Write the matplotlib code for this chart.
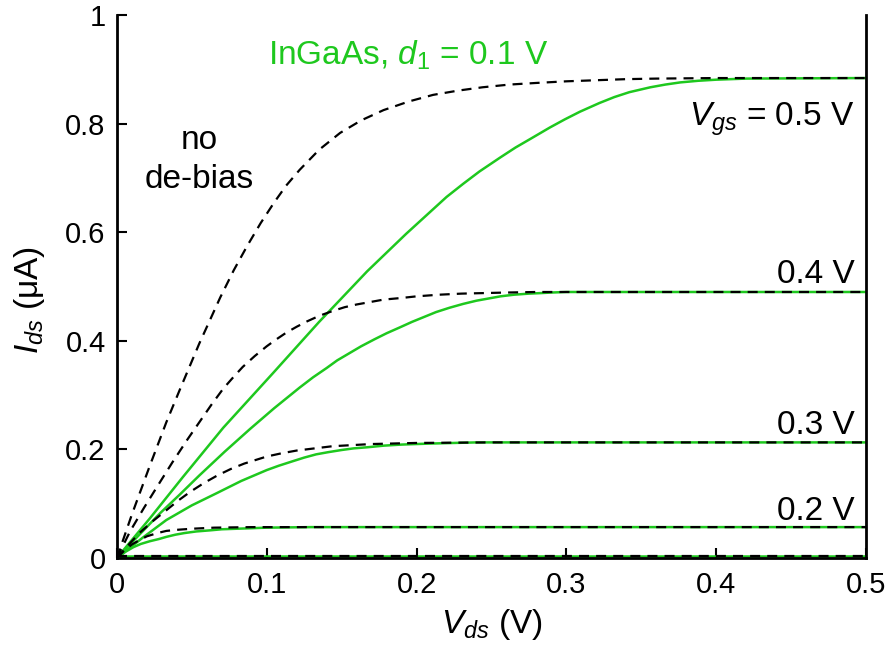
import numpy as np
import matplotlib
matplotlib.use('Agg')
import matplotlib.pyplot as plt

plt.rcParams['font.family'] = ['Liberation Sans', 'DejaVu Sans']
plt.rcParams['mathtext.fontset'] = 'custom'
plt.rcParams['mathtext.rm'] = 'Liberation Sans'
plt.rcParams['mathtext.it'] = 'Liberation Sans:italic'

GREEN = '#1ec81e'

# no de-bias curves (black dashed), Vgs = 0.1 ... 0.5 V
nb_x_01 = [0, 0.5]
nb_y_01 = [0.003, 0.003]
nb_x_02 = [0, 0.005, 0.01, 0.015, 0.02, 0.027, 0.033, 0.04, 0.05, 0.065, 0.09, 0.5]
nb_y_02 = [0, 0.014, 0.025, 0.033, 0.04, 0.046, 0.05, 0.052, 0.054, 0.056, 0.057, 0.057]
nb_x_03 = [0, 0.008, 0.015, 0.024, 0.033, 0.041, 0.049, 0.058, 0.067, 0.076, 0.085, 0.1,
           0.11, 0.12, 0.132, 0.144, 0.157, 0.17, 0.185, 0.2, 0.25, 0.5]
nb_y_03 = [0, 0.025, 0.046, 0.068, 0.088, 0.106, 0.122, 0.138, 0.152, 0.164, 0.174, 0.187,
           0.193, 0.198, 0.202, 0.206, 0.208, 0.21, 0.211, 0.212, 0.213, 0.213]
nb_x_04 = [0, 0.009, 0.018, 0.027, 0.037, 0.047, 0.055, 0.063, 0.071, 0.078, 0.084, 0.092,
           0.1, 0.106, 0.113, 0.12, 0.127, 0.135, 0.144, 0.152, 0.16, 0.17, 0.178, 0.19,
           0.2, 0.215, 0.23, 0.245, 0.26, 0.28, 0.3, 0.5]
nb_y_04 = [0, 0.05, 0.092, 0.132, 0.176, 0.218, 0.25, 0.282, 0.312, 0.334, 0.352, 0.372,
           0.39, 0.402, 0.415, 0.426, 0.436, 0.446, 0.455, 0.462, 0.467, 0.472, 0.476, 0.479,
           0.482, 0.485, 0.487, 0.488, 0.489, 0.49, 0.49, 0.49]
nb_x_05 = [0, 0.01, 0.022, 0.033, 0.042, 0.055, 0.069, 0.078, 0.087, 0.096, 0.105, 0.113,
           0.122, 0.135, 0.149, 0.163, 0.178, 0.195, 0.211, 0.228, 0.244, 0.262, 0.28, 0.3,
           0.32, 0.34, 0.36, 0.4, 0.5]
nb_y_05 = [0, 0.08, 0.17, 0.25, 0.31, 0.395, 0.48, 0.53, 0.575, 0.617, 0.655, 0.686,
           0.715, 0.752, 0.783, 0.806, 0.825, 0.841, 0.853, 0.861, 0.867, 0.872, 0.875, 0.878,
           0.88, 0.882, 0.883, 0.884, 0.884]

# InGaAs, d1 = 0.1 V (green solid)
ig_x_01 = [0, 0.5]
ig_y_01 = [0.003, 0.003]
ig_x_02 = [0, 0.006, 0.011, 0.016, 0.022, 0.028, 0.033, 0.039, 0.045, 0.053, 0.062, 0.07,
           0.08, 0.09, 0.1, 0.13, 0.5]
ig_y_02 = [0, 0.012, 0.02, 0.026, 0.031, 0.035, 0.039, 0.043, 0.046, 0.049, 0.051, 0.053,
           0.054, 0.055, 0.056, 0.057, 0.057]
ig_x_03 = [0, 0.017, 0.033, 0.05, 0.067, 0.083, 0.1, 0.108, 0.117, 0.125, 0.133, 0.141,
           0.15, 0.158, 0.167, 0.178, 0.19, 0.2, 0.211, 0.225, 0.24, 0.5]
ig_y_03 = [0, 0.037, 0.07, 0.097, 0.12, 0.142, 0.162, 0.17, 0.178, 0.185, 0.191, 0.195,
           0.199, 0.202, 0.204, 0.207, 0.209, 0.21, 0.211, 0.212, 0.213, 0.213]
ig_x_04 = [0, 0.015, 0.029, 0.042, 0.055, 0.072, 0.089, 0.105, 0.122, 0.131, 0.14, 0.147,
           0.155, 0.163, 0.172, 0.18, 0.189, 0.197, 0.205, 0.213, 0.222, 0.231, 0.24, 0.248,
           0.256, 0.265, 0.275, 0.283, 0.29, 0.3, 0.31, 0.5]
ig_y_04 = [0, 0.043, 0.083, 0.117, 0.152, 0.196, 0.238, 0.276, 0.314, 0.333, 0.35, 0.364,
           0.377, 0.39, 0.403, 0.414, 0.425, 0.435, 0.444, 0.453, 0.461, 0.468, 0.474, 0.478,
           0.482, 0.485, 0.487, 0.488, 0.489, 0.49, 0.49, 0.49]
ig_x_05 = [0, 0.022, 0.044, 0.071, 0.104, 0.135, 0.167, 0.193, 0.22, 0.231, 0.242, 0.256,
           0.266, 0.276, 0.289, 0.299, 0.309, 0.322, 0.332, 0.342, 0.356, 0.366, 0.376, 0.388,
           0.4, 0.42, 0.5]
ig_y_05 = [0, 0.073, 0.149, 0.24, 0.34, 0.435, 0.528, 0.597, 0.665, 0.689, 0.712, 0.738,
           0.756, 0.772, 0.793, 0.808, 0.822, 0.838, 0.849, 0.858, 0.867, 0.872, 0.876, 0.879,
           0.881, 0.883, 0.884]

nb_curves = [(nb_x_01, nb_y_01), (nb_x_02, nb_y_02), (nb_x_03, nb_y_03),
             (nb_x_04, nb_y_04), (nb_x_05, nb_y_05)]
ig_curves = [(ig_x_01, ig_y_01), (ig_x_02, ig_y_02), (ig_x_03, ig_y_03),
             (ig_x_04, ig_y_04), (ig_x_05, ig_y_05)]

vgs_labels = ['0.2 V', '0.3 V', '0.4 V', r'$V_{gs}$ = 0.5 V']
vgs_label_y = [0.07, 0.228, 0.506, 0.797]

x_ticks = [0, 0.1, 0.2, 0.3, 0.4, 0.5]
x_ticklabels = ['0', '0.1', '0.2', '0.3', '0.4', '0.5']
y_ticks = [0, 0.2, 0.4, 0.6, 0.8, 1.0]
y_ticklabels = ['0', '0.2', '0.4', '0.6', '0.8', '1']

fig = plt.figure(figsize=(8.92, 6.55), dpi=100)
ax = fig.add_axes([0.131, 0.148, 0.84, 0.829])

for x, y in ig_curves:
    ax.plot(x, y, color=GREEN, lw=1.8, zorder=2)
for x, y in nb_curves:
    ax.plot(x, y, color='black', lw=1.6, dashes=(4.5, 3.2), zorder=3)

ax.set_xlim(0, 0.5)
ax.set_ylim(0, 1)
ax.set_xticks(x_ticks)
ax.set_xticklabels(x_ticklabels)
ax.set_yticks(y_ticks)
ax.set_yticklabels(y_ticklabels)
ax.tick_params(direction='in', length=7.5, width=1.5, labelsize=21)
ax.tick_params(axis='x', pad=9)
ax.tick_params(axis='y', pad=8)
ax.spines['top'].set_visible(False)
for s in ['left', 'right', 'bottom']:
    ax.spines[s].set_linewidth(2)

ax.set_xlabel(r'$V_{ds}$ (V)', fontsize=24, labelpad=6)
ax.set_ylabel(r'$I_{ds}$ (μA)', fontsize=24, labelpad=13, y=0.475)

ax.text(0.1007, 0.926, r'InGaAs, $d_1$ = 0.1 V', color=GREEN, fontsize=24,
        ha='left', va='center')
ax.text(0.055, 0.733, 'no\nde-bias', fontsize=24, ha='center', va='center',
        linespacing=1.35)
for lab, yy in zip(vgs_labels, vgs_label_y):
    ax.text(0.4923, yy, lab, fontsize=24, ha='right', va='baseline')

fig.savefig('out.png', dpi=100)
